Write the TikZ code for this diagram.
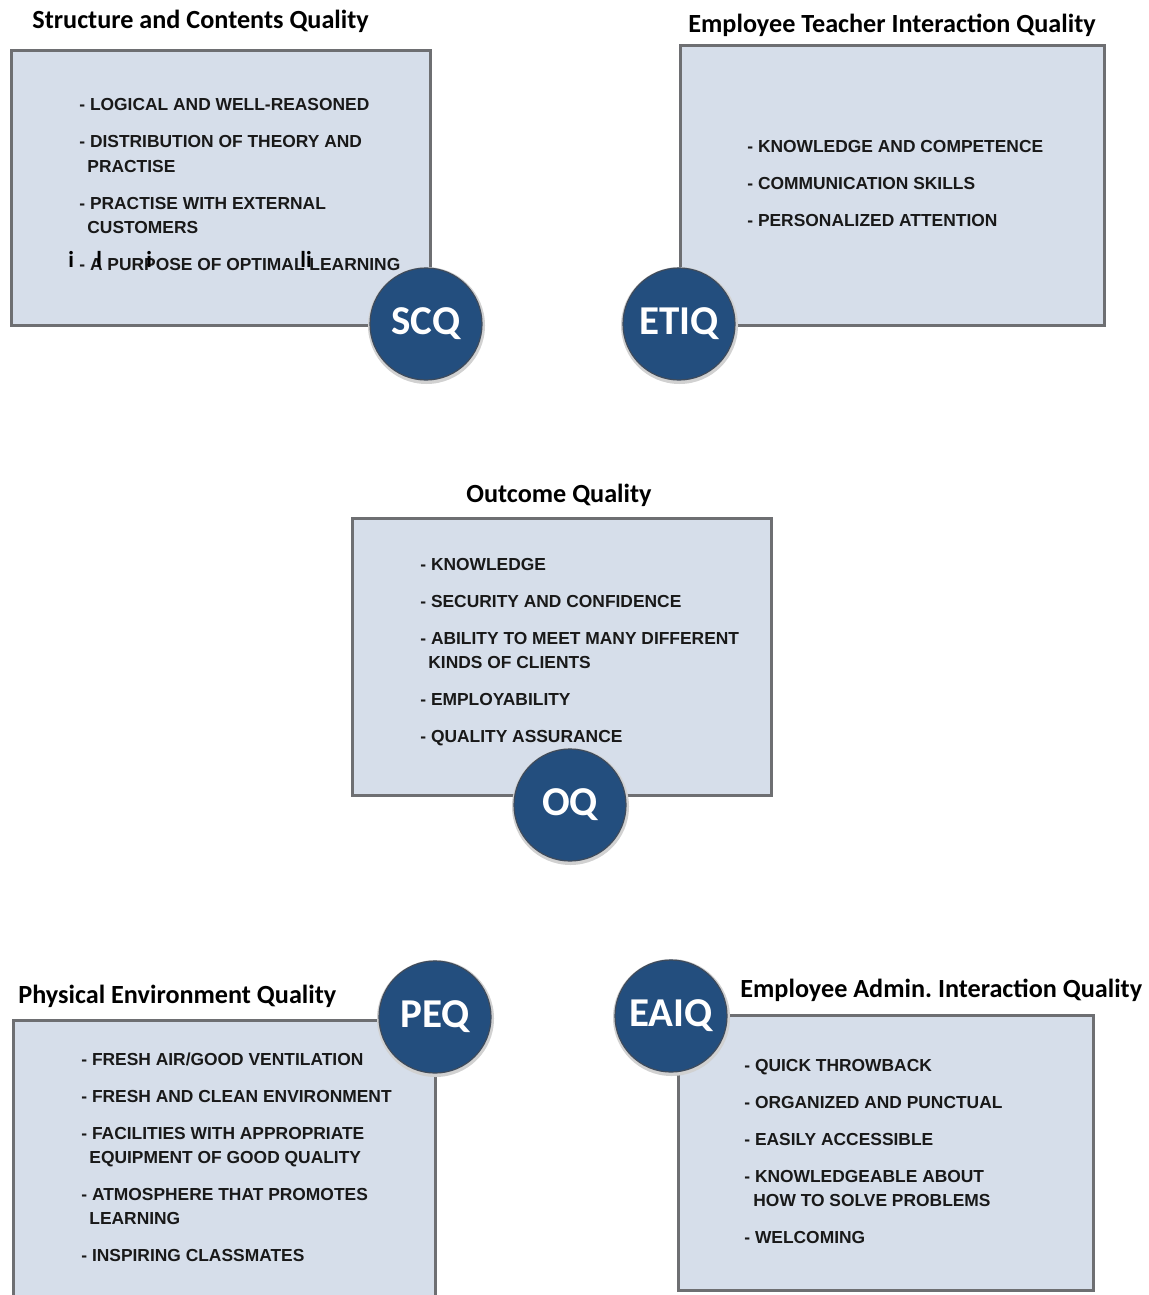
\documentclass[tikz,border=0pt]{standalone}
\usepackage{fontspec}
\setmainfont{Liberation Sans}
\newfontfamily\titlefont{Carlito}
\definecolor{boxfill}{HTML}{D6DEEA}
\definecolor{boxedge}{HTML}{6E6F72}
\definecolor{badge}{HTML}{234E7E}
\definecolor{badgeedge}{HTML}{3E4B5C}
\tikzset{
  panel/.style={draw=boxedge, line width=1.5pt, fill=boxfill},
  badgecircle/.style={circle, minimum size=56pt, inner sep=0pt, fill=badge,
    draw=badgeedge, line width=0.6pt, text=white,
    font=\titlefont\bfseries\fontsize{20.5}{24}\selectfont},
  halo/.style={circle, minimum size=58.5pt, inner sep=0pt, fill=black!18},
  heading/.style={font=\titlefont\bfseries\fontsize{13.1}{15}\selectfont, inner sep=0pt},
  item/.style={anchor=base west, inner sep=0pt,
    font=\bfseries\fontsize{8.7}{10}\selectfont, text=black!90},
  stray/.style={anchor=base west, inner sep=0pt,
    font=\titlefont\bfseries\fontsize{11.5}{13}\selectfont}
}
\begin{document}
\frenchspacing
\begin{tikzpicture}[x=0.5pt, y=-0.5pt]
\useasboundingbox (0,0) rectangle (1149,1295);
\fill[white] (0,0) rectangle (1149,1295);

% ---------- Structure and Contents Quality ----------
\node[heading, anchor=west] (t1) at (32,21) {Structure and Contents Quality};
\draw[panel] (11,51) rectangle (430,325);
\node[item] (s1) at (79,111) {- LOGICAL AND WELL-REASONED};
\node[item] (s2) at (79,148) {- DISTRIBUTION OF THEORY AND};
\node[item] (s2b) at (87,172) {PRACTISE};
\node[item] (s3) at (79,209) {- PRACTISE WITH EXTERNAL};
\node[item] (s3b) at (87,233) {CUSTOMERS};
\node[item] (s4) at (79,270) {- A PURPOSE OF OPTIMAL LEARNING};
\node[stray] (g1) at (68,267) {i};
\node[stray] (g2) at (96,267) {l};
\node[stray] (g3) at (146,267) {i};
\node[stray] (g4) at (300,267) {li};
\node[halo] at (426.5,325.5) {};
\node[badgecircle] (scq) at (426,324) {SCQ};

% ---------- Employee Teacher Interaction Quality ----------
\node[heading, anchor=west] (t2) at (688,25) {Employee Teacher Interaction Quality};
\draw[panel] (680,46) rectangle (1104,325);
\node[item] (e1) at (747,152) {- KNOWLEDGE AND COMPETENCE};
\node[item] (e2) at (747,189) {- COMMUNICATION SKILLS};
\node[item] (e3) at (747,226) {- PERSONALIZED ATTENTION};
\node[halo] at (679.5,325.5) {};
\node[badgecircle] (etiq) at (679,324) {ETIQ};

% ---------- Outcome Quality ----------
\node[heading] (t3) at (559,495) {Outcome Quality};
\draw[panel] (352,518) rectangle (771,795);
\node[item] (o1) at (420,570) {- KNOWLEDGE};
\node[item] (o2) at (420,607) {- SECURITY AND CONFIDENCE};
\node[item] (o3) at (420,644) {- ABILITY TO MEET MANY DIFFERENT};
\node[item] (o3b) at (428,668) {KINDS OF CLIENTS};
\node[item] (o4) at (420,705) {- EMPLOYABILITY};
\node[item] (o5) at (420,742) {- QUALITY ASSURANCE};
\node[halo] at (570.5,806.5) {};
\node[badgecircle] (oq) at (570,805) {OQ};

% ---------- Physical Environment Quality ----------
\node[heading, anchor=west] (t4) at (18,996) {Physical Environment Quality};
\draw[panel] (13,1310) -- (13,1020) -- (435,1020) -- (435,1310);
\node[item] (p1) at (81,1065) {- FRESH AIR/GOOD VENTILATION};
\node[item] (p2) at (81,1102) {- FRESH AND CLEAN ENVIRONMENT};
\node[item] (p3) at (81,1139) {- FACILITIES WITH APPROPRIATE};
\node[item] (p3b) at (89,1163) {EQUIPMENT OF GOOD QUALITY};
\node[item] (p4) at (81,1200) {- ATMOSPHERE THAT PROMOTES};
\node[item] (p4b) at (89,1224) {LEARNING};
\node[item] (p5) at (81,1261) {- INSPIRING CLASSMATES};
\node[halo] at (435.5,1018.5) {};
\node[badgecircle] (peq) at (435,1017) {PEQ};

% ---------- Employee Admin. Interaction Quality ----------
\node[heading, anchor=west] (t5) at (740,990) {Employee Admin. Interaction Quality};
\draw[panel] (678,1015) rectangle (1093,1290);
\node[item] (a1) at (744,1071) {- QUICK THROWBACK};
\node[item] (a2) at (744,1108) {- ORGANIZED AND PUNCTUAL};
\node[item] (a3) at (744,1145) {- EASILY ACCESSIBLE};
\node[item] (a4) at (744,1182) {- KNOWLEDGEABLE ABOUT};
\node[item] (a4b) at (753,1206) {HOW TO SOLVE PROBLEMS};
\node[item] (a5) at (744,1243) {- WELCOMING};
\node[halo] at (671.5,1017.5) {};
\node[badgecircle] (eaiq) at (671,1016) {EAIQ};
\end{tikzpicture}
\end{document}
